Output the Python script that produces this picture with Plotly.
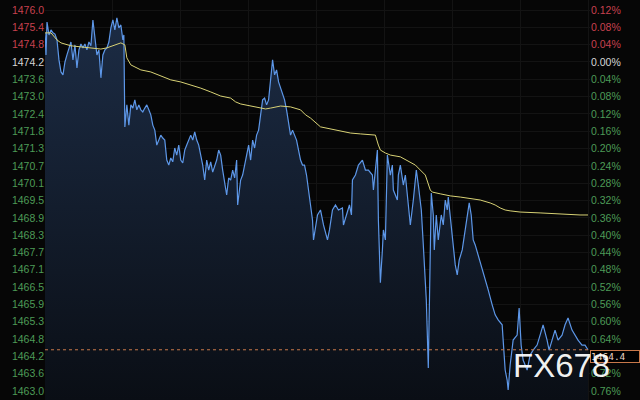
import plotly.graph_objects as go

# ---- data ----
base_price = 1474.2
last_price = 1464.4

pct_ticks = [0.12, 0.08, 0.04, 0.00, -0.04, -0.08, -0.12, -0.16, -0.20, -0.24, -0.28,
             -0.32, -0.36, -0.40, -0.44, -0.48, -0.52, -0.56, -0.60, -0.64, -0.68, -0.72, -0.76]
left_labels = ["1476.0", "1475.4", "1474.8", "1474.2", "1473.6", "1473.0", "1472.4", "1471.8",
               "1471.3", "1470.7", "1470.1", "1469.5", "1468.9", "1468.3", "1467.7", "1467.1",
               "1466.5", "1465.9", "1465.3", "1464.8", "1464.2", "1463.6", "1463.0"]
right_labels = ["0.12%", "0.08%", "0.04%", "0.00%", "0.04%", "0.08%", "0.12%", "0.16%",
                "0.20%", "0.24%", "0.28%", "0.32%", "0.36%", "0.40%", "0.44%", "0.48%",
                "0.52%", "0.56%", "0.60%", "0.64%", "0.68%", "0.72%", "0.76%"]

price_t = [0, 1, 2, 4, 6, 8, 10, 12, 14, 16, 18, 20, 22, 24, 26, 28, 30, 32, 34, 36, 38, 40, 42, 44,
           46, 48, 50, 52, 54, 56, 58, 60, 62, 64, 66, 68, 70, 72, 74, 76, 78, 79, 80, 82, 84, 86,
           88, 90, 92, 94, 96, 98, 100, 102, 104, 106, 108, 110, 112, 114, 116, 118, 120, 122,
           124, 126, 128, 130, 132, 134, 136, 138, 140, 142, 144, 146, 148, 150, 152, 154, 156,
           158, 160, 162, 164, 166, 168, 170, 172, 174, 176, 178, 180, 182, 184, 186, 188, 190,
           192, 193, 196, 198, 200, 202, 204, 206, 208, 210, 212, 214, 216, 218, 220, 222, 224,
           226, 228, 230, 232, 234, 236, 238, 240, 242, 244, 246, 248, 250, 252, 254, 256, 258,
           260, 262, 264, 266, 268, 269, 271, 273, 276, 279, 283, 285, 288, 291, 294, 298, 299,
           303, 305, 307, 308, 311, 314, 318, 321, 324, 328, 329, 331, 333, 334, 336, 338, 339,
           341, 343, 346, 348, 349, 353, 354, 356, 359, 361, 363, 366, 369, 372, 374, 377, 379,
           382, 384, 385, 387, 389, 390, 392, 394, 397, 399, 401, 403, 404, 407, 409, 411, 413,
           415, 418, 421, 423, 425, 427, 429, 431, 434, 438, 441, 444, 448, 451, 454, 458, 459,
           461, 463, 464, 466, 468, 469, 473, 475, 477, 479, 483, 486, 489, 493, 496, 499, 503,
           505, 508, 511, 514, 518, 521, 524, 528, 531, 534, 538, 541, 544]
price = [1475.19, 1474.44, 1475.56, 1475.12, 1475.29, 1475.19, 1475.15, 1474.95, 1474.27, 1473.86,
         1473.76, 1474.20, 1474.44, 1474.68, 1474.88, 1474.27, 1474.78, 1474.00, 1474.61, 1474.81,
         1474.68, 1474.81, 1474.61, 1474.88, 1474.75, 1475.63, 1474.95, 1474.44, 1474.61, 1473.66,
         1474.44, 1474.61, 1474.68, 1474.88, 1475.36, 1475.63, 1475.29, 1475.70, 1475.36, 1475.46,
         1474.95, 1475.12, 1471.99, 1472.74, 1472.05, 1472.74, 1472.63, 1472.91, 1472.57, 1472.74,
         1472.57, 1472.50, 1472.63, 1472.74, 1472.57, 1472.40, 1472.05, 1471.88, 1471.37, 1471.54,
         1471.71, 1471.61, 1471.54, 1470.86, 1470.69, 1470.93, 1470.80, 1471.27, 1471.03, 1471.37,
         1470.86, 1470.76, 1471.20, 1471.37, 1471.54, 1471.71, 1471.54, 1471.82, 1471.54, 1471.37,
         1471.03, 1470.69, 1470.18, 1470.86, 1470.52, 1470.80, 1470.45, 1470.69, 1470.86, 1471.20,
         1471.03, 1470.52, 1470.11, 1469.67, 1470.25, 1470.18, 1470.52, 1470.25, 1470.86, 1469.33,
         1470.18, 1470.35, 1470.69, 1471.03, 1471.37, 1470.86, 1471.54, 1471.27, 1471.71, 1471.88,
         1472.40, 1472.91, 1472.97, 1472.74, 1472.91, 1473.59, 1474.27, 1473.76, 1473.93, 1473.52,
         1473.31, 1473.08, 1472.91, 1472.57, 1472.05, 1471.71, 1471.88, 1471.71, 1471.54, 1471.20,
         1470.86, 1470.69, 1470.69, 1470.35, 1469.84, 1469.16, 1468.82, 1468.14, 1468.65, 1468.99,
         1469.16, 1468.65, 1468.14, 1468.48, 1469.16, 1469.33, 1469.16, 1469.23, 1468.65, 1469.16,
         1469.33, 1468.99, 1470.18, 1470.35, 1470.69, 1470.86, 1470.52, 1470.52, 1470.35, 1469.84,
         1470.52, 1471.20, 1468.82, 1466.68, 1467.80, 1468.48, 1468.14, 1471.03, 1470.35, 1470.69,
         1469.84, 1469.50, 1470.35, 1470.69, 1470.01, 1470.35, 1469.67, 1468.65, 1469.50, 1470.52,
         1470.01, 1469.16, 1467.97, 1466.10, 1463.78, 1466.10, 1469.74, 1468.99, 1467.80, 1468.99,
         1468.14, 1468.99, 1468.65, 1469.50, 1469.16, 1469.60, 1468.65, 1468.14, 1467.29, 1466.95,
         1467.46, 1467.80, 1468.48, 1469.09, 1469.40, 1468.99, 1468.14, 1467.97, 1467.63, 1467.12,
         1466.78, 1466.44, 1465.93, 1465.59, 1465.42, 1465.25, 1464.73, 1463.71, 1463.37, 1463.03,
         1463.88, 1464.39, 1464.73, 1464.90, 1465.82, 1464.56, 1464.05, 1463.71, 1464.22, 1464.39,
         1464.56, 1464.90, 1465.25, 1464.73, 1464.39, 1464.73, 1465.07, 1464.73, 1464.90, 1465.25,
         1465.48, 1465.07, 1464.90, 1464.73, 1464.56, 1464.56, 1464.40]

avg_t = [0, 6, 12, 16, 26, 36, 46, 56, 62, 70, 76, 80, 82, 86, 96, 106, 116, 126, 136, 146, 156,
         166, 176, 186, 191, 196, 206, 216, 221, 226, 236, 246, 256, 261, 266, 276, 286, 296, 306,
         316, 331, 334, 336, 341, 346, 356, 366, 371, 376, 381, 386, 388, 396, 406, 416, 426, 436,
         446, 451, 456, 461, 466, 476, 496, 516, 536, 544]
avg_price = [1475.19, 1475.19, 1474.95, 1474.85, 1474.75, 1474.71, 1474.68, 1474.64, 1474.68,
             1474.78, 1474.85, 1474.78, 1474.34, 1474.10, 1473.93, 1473.86, 1473.72, 1473.59,
             1473.52, 1473.42, 1473.31, 1473.18, 1473.04, 1472.97, 1472.84, 1472.77, 1472.70,
             1472.63, 1472.60, 1472.63, 1472.70, 1472.67, 1472.57, 1472.40, 1472.29, 1471.99,
             1471.92, 1471.85, 1471.78, 1471.75, 1471.71, 1471.37, 1471.20, 1471.10, 1471.03,
             1470.97, 1470.80, 1470.69, 1470.52, 1470.35, 1469.84, 1469.77, 1469.71, 1469.64,
             1469.60, 1469.54, 1469.50, 1469.40, 1469.33, 1469.23, 1469.16, 1469.13, 1469.09,
             1469.06, 1469.02, 1468.99, 1468.99]

# ---- derived ----
tick_vals = [base_price * (1 + p / 100) for p in pct_ticks]
y_lo, y_hi = 1462.69, 1476.31
x_lo, x_hi = 0, 546
BG = "#060606"


def col(p):
    if p > 0:
        return "#c8414f"
    if p == 0:
        return "#d6d6d6"
    return "#4d9b57"


left_text = [f'<span style="color:{col(p)}">{t}</span>' for p, t in zip(pct_ticks, left_labels)]
right_text = [f'<span style="color:{col(p)}">{t}</span>' for p, t in zip(pct_ticks, right_labels)]

fig = go.Figure()

# baseline for the area fill
fig.add_trace(go.Scatter(x=[x_lo, price_t[-1]], y=[y_lo, y_lo], mode="lines",
                         line=dict(width=0), hoverinfo="skip", showlegend=False))
fig.add_trace(go.Scatter(
    x=price_t, y=price, mode="lines",
    line=dict(color="#5d97e8", width=1.2),
    fill="tonexty",
    fillgradient=dict(type="vertical",
                      colorscale=[[0, "#0a0e15"], [1, "#1c2c45"]],
                      start=y_lo, stop=1475.8),
    showlegend=False))
fig.add_trace(go.Scatter(x=avg_t, y=avg_price, mode="lines",
                         line=dict(color="#d8d275", width=1), showlegend=False))
# dummy trace to activate the right axis
fig.add_trace(go.Scatter(x=[x_lo], y=[base_price], yaxis="y2", mode="markers",
                         marker=dict(opacity=0), hoverinfo="skip", showlegend=False))

# last price dotted line
fig.add_shape(type="line", xref="paper", x0=0, x1=1, yref="y", y0=last_price, y1=last_price,
              line=dict(color="#c8784a", width=1, dash="dot"))

fig.add_annotation(xref="paper", x=1.0, xanchor="left", yref="y", y=last_price, yanchor="top",
                   text=f"{last_price:.1f}", showarrow=False,
                   font=dict(family="DejaVu Sans Mono, monospace", size=9.5, color="#e6d2c4"),
                   bgcolor="#000000", bordercolor="#c8784a", borderwidth=1, borderpad=0,
                   xshift=0, width=48, align="left")

fig.add_annotation(xref="paper", x=0.948, xanchor="center", yref="paper", y=0.087,
                   yanchor="middle", text="FX678", showarrow=False,
                   font=dict(family="Liberation Sans, Arial, sans-serif", size=33,
                             color="rgba(255,255,255,0.95)"))

axis_font = dict(family="Liberation Sans, Arial, sans-serif", size=10.5, color="#4d9b57")

fig.update_layout(
    width=640, height=400,
    margin=dict(l=45, r=50, t=0, b=0),
    paper_bgcolor=BG, plot_bgcolor=BG,
    showlegend=False,
    xaxis=dict(range=[x_lo, x_hi], showticklabels=False, showgrid=True,
               gridcolor="#131313", dtick=68, zeroline=False, showline=False),
    yaxis=dict(range=[y_lo, y_hi], tickvals=tick_vals, ticktext=left_text,
               tickfont=axis_font, showgrid=True, gridcolor="#131313",
               zeroline=False, showline=False, ticks=""),
    yaxis2=dict(range=[y_lo, y_hi], overlaying="y", side="right", tickvals=tick_vals,
                ticktext=right_text, tickfont=axis_font, showgrid=False,
                zeroline=False, showline=False, ticks=""),
)

fig.write_html(
    "out.html",
    config={"displayModeBar": False},
    post_script="document.body.style.margin='0';document.body.style.background='" + BG + "';",
)
